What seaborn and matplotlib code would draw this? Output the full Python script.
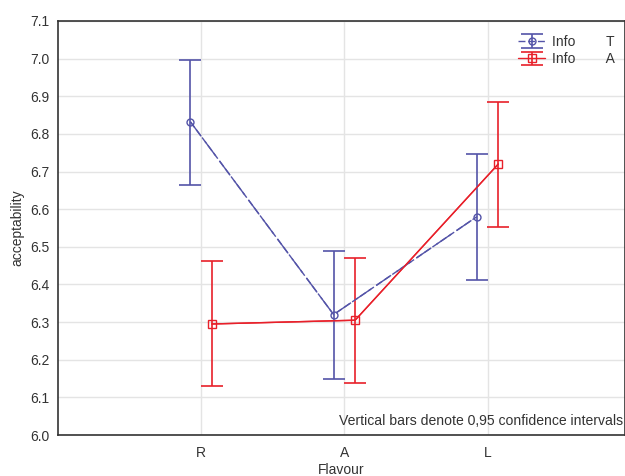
import matplotlib
matplotlib.use("Agg")
import matplotlib.pyplot as plt
import seaborn as sns
import pandas as pd
import numpy as np

categories = ["R", "A", "L"]
info_t_mean = [6.832, 6.320, 6.580]
info_t_low = [6.664, 6.150, 6.413]
info_t_high = [6.996, 6.488, 6.747]
info_a_mean = [6.295, 6.305, 6.720]
info_a_low = [6.130, 6.137, 6.553]
info_a_high = [6.462, 6.470, 6.886]
series_labels = ["Info        T", "Info        A"]

sns.set_theme(style="whitegrid")
plt.rcParams['font.family'] = ['Liberation Sans', 'DejaVu Sans']

fig = plt.figure(figsize=(6.25, 4.76), dpi=100)
ax = fig.add_axes([0.0928, 0.0861, 0.9072, 0.8698])

base = np.arange(1, len(categories) + 1)
offset = 0.075
blue = "#5454A8"
red = "#E8202A"

df = pd.DataFrame({
    "x": np.concatenate([base - offset, base + offset]),
    "y": info_t_mean + info_a_mean,
    "series": [series_labels[0]] * 3 + [series_labels[1]] * 3,
})

sns.lineplot(data=df[df.series == series_labels[0]], x="x", y="y", ax=ax,
             color=blue, lw=1.0, dashes=False, legend=False)
ax.lines[-1].set_dashes([13, 4.5])
sns.lineplot(data=df[df.series == series_labels[1]], x="x", y="y", ax=ax,
             color=red, lw=1.0, legend=False)

tm = np.array(info_t_mean)
am = np.array(info_a_mean)
h1 = ax.errorbar(base - offset, tm,
                 yerr=[tm - np.array(info_t_low), np.array(info_t_high) - tm],
                 fmt="o", mfc="none", mec=blue, ms=5, ecolor=blue, elinewidth=1.2,
                 capsize=8, capthick=1.2, color=blue, ls=(0, (5, 2)), lw=1)
h2 = ax.errorbar(base + offset, am,
                 yerr=[am - np.array(info_a_low), np.array(info_a_high) - am],
                 fmt="s", mfc="none", mec=red, ms=6, ecolor=red, elinewidth=1.2,
                 capsize=8, capthick=1.2, color=red, ls="-", lw=1)

ax.set_xlim(0, 3.96)
ax.set_ylim(6.0, 7.1)
ax.set_xticks(base)
ax.set_xticklabels(categories)
ax.set_yticks(np.round(np.arange(6.0, 7.11, 0.1), 1))
ax.set_yticklabels([f"{v:.1f}" for v in np.arange(6.0, 7.11, 0.1)])
ax.tick_params(labelsize=10, colors="#333333", length=3, direction="in")
ax.tick_params(axis="x", pad=8)
ax.tick_params(axis="y", pad=6)
ax.grid(True, color="#E4E4E4", lw=1)
for s in ax.spines.values():
    s.set_color("#333333")
    s.set_linewidth(1.2)
    s.set_visible(True)
ax.set_xlabel("Flavour", fontsize=10, color="#333333", labelpad=2)
ax.set_ylabel("acceptability", fontsize=10, color="#333333", labelpad=4)

leg = ax.legend([h1, h2], series_labels, loc="upper right", frameon=False,
                fontsize=10, bbox_to_anchor=(1.0, 0.99), handlelength=2.0,
                borderpad=0.2, labelspacing=0.25, handletextpad=0.5)
for t in leg.get_texts():
    t.set_color("#333333")

ax.text(0.997, 0.018, "Vertical bars denote 0,95 confidence intervals",
        transform=ax.transAxes, ha="right", va="bottom", fontsize=10.1, color="#333333")

fig.savefig("out.png", dpi=100)
